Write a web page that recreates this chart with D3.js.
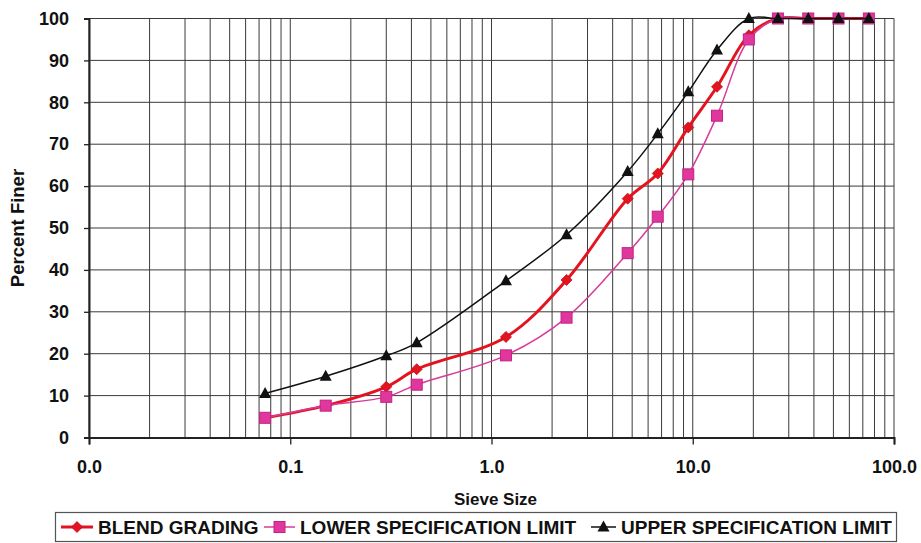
<!DOCTYPE html>
<html>
<head>
<meta charset="utf-8">
<script src="https://cdn.jsdelivr.net/npm/d3@7"></script>
<style>
  html, body { margin: 0; padding: 0; background: #ffffff; }
  svg { display: block; }
  text { font-family: "Liberation Sans", Arial, sans-serif; font-weight: bold; fill: #111; }
</style>
</head>
<body>
<svg id="chart" width="921" height="543"></svg>
<script>
// ---- data ----
const sieveSizes = [0.075, 0.15, 0.3, 0.425, 1.18, 2.36, 4.75, 6.7, 9.5, 13.2, 19, 26.5, 37.5, 53, 75];
const blendGrading = [4.7, 7.6, 12.1, 16.3, 24.0, 37.6, 57.0, 63.0, 74.0, 83.7, 96.0, 100, 100, 100, 100];
const lowerSpec = [4.7, 7.6, 9.7, 12.6, 19.6, 28.6, 44.0, 52.7, 62.8, 76.8, 95.0, 100, 100, 100, 100];
const upperSpec = [10.5, 14.6, 19.5, 22.6, 37.4, 48.4, 63.5, 72.5, 82.5, 92.5, 100, 100, 100, 100, 100];
const xTickValues = [0.01, 0.1, 1, 10, 100];
const yTickValues = [0, 10, 20, 30, 40, 50, 60, 70, 80, 90, 100];
const seriesNames = ["BLEND GRADING", "LOWER SPECIFICATION LIMIT", "UPPER SPECIFICATION LIMIT"];

// ---- layout ----
const svg = d3.select("#chart");
const L = 89, R = 894, T = 18.5, B = 437.5;
const x = d3.scaleLog().domain([0.01, 100]).range([L, R]);
const y = d3.scaleLinear().domain([0, 100]).range([B, T]);
const gridColor = "#3a3a3a";

// vertical grid (log minor lines)
svg.append("g").selectAll("line").data(x.ticks()).join("line")
  .attr("x1", d => x(d)).attr("x2", d => x(d))
  .attr("y1", T).attr("y2", B)
  .attr("stroke", gridColor).attr("stroke-width", 1);
// horizontal grid
svg.append("g").selectAll("line").data(yTickValues).join("line")
  .attr("x1", L).attr("x2", R)
  .attr("y1", d => y(d)).attr("y2", d => y(d))
  .attr("stroke", gridColor).attr("stroke-width", 1);

// axes
const xAxis = svg.append("g").attr("transform", `translate(0,${B})`)
  .call(d3.axisBottom(x).tickValues(xTickValues).tickFormat(d3.format(".1f")).tickSize(7).tickPadding(12));
const yAxis = svg.append("g").attr("transform", `translate(${L},0)`)
  .call(d3.axisLeft(y).tickValues(yTickValues).tickSize(5).tickPadding(15));
[xAxis, yAxis].forEach(a => {
  a.select(".domain").attr("stroke", "#222").attr("stroke-width", 2);
  a.selectAll(".tick line").attr("stroke", "#222").attr("stroke-width", 1.3);
  a.selectAll(".tick text").style("font-size", "18px").style("font-weight", "bold")
    .style("font-family", '"Liberation Sans", Arial, sans-serif').attr("fill", "#111");
});
xAxis.selectAll(".tick text").attr("dy", "0.9em");
yAxis.selectAll(".tick text").attr("x", -20);

// axis titles
svg.append("text").attr("x", (L + R) / 2 + 4).attr("y", 505)
  .attr("text-anchor", "middle").style("font-size", "17px").text("Sieve Size");
svg.append("text").attr("transform", `translate(24,${(T + B) / 2}) rotate(-90)`)
  .attr("text-anchor", "middle").style("font-size", "18.5px").text("Percent Finer");

// series
const colors = ["#e3141f", "#d93a9a", "#111111"];
const widths = [3, 1.5, 1.5];
const seriesData = [blendGrading, lowerSpec, upperSpec];
const line = d3.line().x(d => x(d[0])).y(d => y(d[1])).curve(d3.curveCatmullRom.alpha(0.5));

function drawMarker(g, type, cx, cy, color) {
  if (type === 0) {
    g.append("path").attr("d", `M${cx},${cy - 5.5}L${cx + 5.5},${cy}L${cx},${cy + 5.5}L${cx - 5.5},${cy}Z`)
      .attr("fill", color).attr("stroke", "#c0101a").attr("stroke-width", 0.8);
  } else if (type === 1) {
    g.append("rect").attr("x", cx - 5.5).attr("y", cy - 5.5).attr("width", 11).attr("height", 11)
      .attr("fill", "#e0379c").attr("stroke", "#c42286").attr("stroke-width", 1);
  } else {
    g.append("path").attr("d", `M${cx},${cy - 6.5}L${cx + 6},${cy + 4.5}L${cx - 6},${cy + 4.5}Z`)
      .attr("fill", color);
  }
}

seriesData.forEach((vals, i) => {
  const pts = sieveSizes.map((s, k) => [s, vals[k]]);
  const g = svg.append("g");
  g.append("path").datum(pts).attr("d", line)
    .attr("fill", "none").attr("stroke", colors[i]).attr("stroke-width", widths[i]);
  pts.forEach(p => drawMarker(g, i, x(p[0]), y(p[1]), colors[i]));
});

// legend
const lg = svg.append("g");
lg.append("rect").attr("x", 55.5).attr("y", 512.5).attr("width", 841).attr("height", 29)
  .attr("fill", "#fff").attr("stroke", "#555").attr("stroke-width", 1.2);
const legendStarts = [61, 264, 591];
const sampleW = [32, 31, 25];
const ly = 527;
seriesNames.forEach((name, i) => {
  const lx = legendStarts[i];
  lg.append("line").attr("x1", lx).attr("x2", lx + sampleW[i]).attr("y1", ly).attr("y2", ly)
    .attr("stroke", colors[i]).attr("stroke-width", widths[i]);
  drawMarker(lg, i, lx + sampleW[i] / 2, ly, colors[i]);
  lg.append("text").attr("x", lx + sampleW[i] + 5).attr("y", ly + 7)
    .style("font-size", "19px").text(name);
});
</script>
</body>
</html>
